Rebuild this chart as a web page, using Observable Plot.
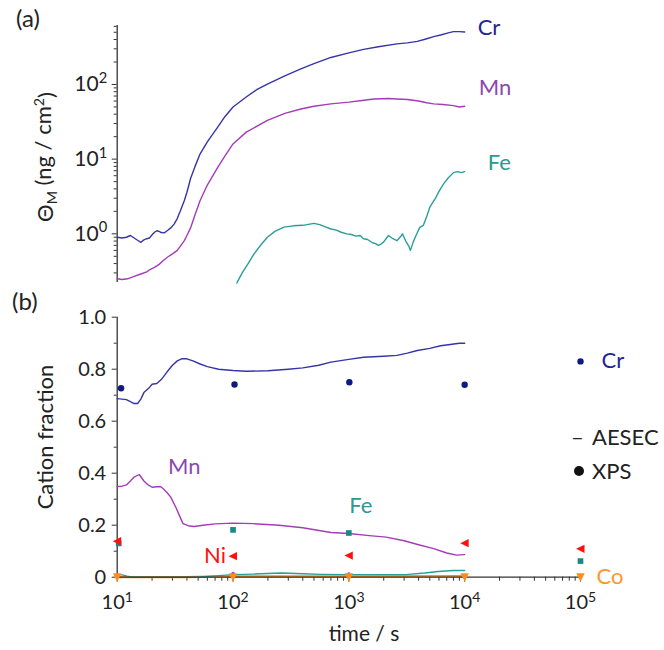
<!DOCTYPE html>
<html><head><meta charset="utf-8">
<script src="https://cdn.jsdelivr.net/npm/d3@7"></script>
<script src="https://cdn.jsdelivr.net/npm/@observablehq/plot@0.6"></script>
<style>
body{margin:0;background:#fff;}
#wrap{position:relative;width:664px;height:650px;}
#wrap svg{position:absolute;left:0;overflow:visible;}
</style></head><body><div id="wrap"></div>
<script>
// ---------- (a) AESEC cumulative mass, ng/cm2 ----------
const topTimeCr = [10,11,12,13,14,15,16,17,18,19,20,21,22,23,24,25.5,27,29,31,33,35,38,40,43,47,52,60,74,85,100,130,160,200,280,385,500,700,1000,1340,1800,2600,3200,3900,4700,5500,6200,7200,8000,9000,10000];
const topCr     = [0.90,0.88,0.90,0.95,0.88,0.82,0.77,0.83,0.86,0.88,0.97,1.05,1.10,1.08,1.04,1.03,1.10,1.20,1.35,1.6,2.0,2.8,3.6,5.5,8,11.8,17,27,37,50,68,85,102,130,162,190,230,265,295,320,350,360,378,410,440,460,490,510,510,505];
const topTimeMn = [10,11,12.3,14,16,18,19,21,23,25,27.3,30,33,35,38,40,43,47,52,60,74,85,100,130,198,280,385,500,700,1000,1300,1640,2200,2600,3200,4000,4700,5400,6500,8000,9000,10000];
const topMn     = [0.25,0.245,0.25,0.27,0.29,0.31,0.33,0.355,0.39,0.44,0.49,0.54,0.60,0.68,0.81,0.95,1.2,1.8,2.8,4.5,7.8,11,16,23,33,41,47,51,55,58,61,64,65,64,63,60,57,55,54,52,50,51];
const topTimeFe = [108,120,135,152,175,198,230,275,330,400,500,560,620,700,780,860,960,1050,1150,1250,1340,1450,1600,1700,1800,1900,2000,2200,2400,2600,2800,2900,3100,3300,3400,3600,3800,4100,4400,4700,5000,5600,6000,6600,7200,8000,8700,9300,10000];
const topFe     = [0.22,0.30,0.40,0.54,0.72,0.90,1.08,1.23,1.28,1.30,1.38,1.33,1.25,1.16,1.12,1.05,1.00,0.98,0.93,0.95,0.86,0.84,0.76,0.74,0.70,0.73,0.78,0.95,0.86,0.81,0.92,1.00,0.80,0.68,0.60,0.78,0.95,1.22,1.30,1.70,2.27,3.0,3.7,4.7,5.6,6.6,6.8,6.6,6.8];

// ---------- (b) cation fraction ----------
const botTimeCr = [10,11,12,13,14,15,16,17,19,20,22,24,27,30,33,36,40,45,52,60,75,100,130,200,300,400,550,700,1000,1340,2000,2600,3200,3900,5000,6200,7500,9000,10000];
const botCr     = [0.687,0.685,0.683,0.675,0.668,0.668,0.685,0.71,0.73,0.742,0.745,0.76,0.79,0.815,0.832,0.84,0.84,0.832,0.82,0.81,0.80,0.795,0.792,0.794,0.80,0.805,0.815,0.827,0.838,0.846,0.85,0.853,0.862,0.872,0.88,0.89,0.895,0.90,0.90];
const botTimeMn = [10,11,12,13,14,15.5,17,18.5,20,22,23.6,25,27,29,32,35,37,41,46,55,70,100,150,250,400,700,1000,1500,2100,3000,4000,5400,7000,8500,10000];
const botMn     = [0.349,0.35,0.355,0.37,0.385,0.395,0.37,0.355,0.346,0.348,0.349,0.34,0.325,0.308,0.27,0.23,0.206,0.198,0.195,0.20,0.205,0.208,0.206,0.20,0.19,0.172,0.168,0.16,0.154,0.14,0.125,0.11,0.093,0.085,0.087];
const botTimeFe = [10,11,12.2,13.6,50,70,100,150,260,400,570,1000,2000,3100,4500,5900,8000,10000];
const botFe     = [0.01,0.009,0.004,0,0,0.005,0.01,0.012,0.016,0.013,0.011,0.01,0.01,0.01,0.016,0.022,0.026,0.026];
const botTimeCo = [10,40,60,100,1000,10000];
const botCo     = [0,0,0.002,0.003,0.003,0.004];

// XPS points
const xpsTimeCr = [10.8,103,1010,10000,100000];
const xpsCr     = [0.727,0.741,0.75,0.74,0.83];
const xpsTimeFe = [10.3,100,1000,100000];
const xpsFe     = [0.13,0.182,0.17,0.062];
const xpsTimeNi = [10,100,1000,10000,100000];
const xpsNi     = [0.138,0.081,0.083,0.131,0.109];
const xpsTimeCo = [10,100,1000,10000,100000];
const xpsCo     = [0,0,0,0,0];
const xpsTimeMn = [100,1000,100000];
const xpsMn     = [0.014,0.012,0.006];

// ticks
const topMajor = [1,10,100];
const botYMajor = [0,0.2,0.4,0.6,0.8,1.0];
const botYMinor = [0.1,0.3,0.5,0.7,0.9];
const xMajor = [10,100,1000,10000,100000];

const FONT = "Lato, 'Open Sans', sans-serif";
const C = {cr:"#3535a8", crT:"#25258f", crD:"#0d1a80", mn:"#a43cb8", mnT:"#8b48b0", fe:"#2a9e9a", feT:"#279a96", feD:"#178a86", ni:"#ff1010", co:"#ff8c1a", coT:"#ff9530", ax:"#333"};

const minorLog = (lo, hi) => { const out=[]; for (const d of [0.1,1,10,100,1000,10000]) for (let k=2;k<=9;k++){ const v=k*d; if (v>lo && v<hi) out.push(v);} return out; };
const fmtPow = d => "10^" + Math.round(Math.log10(d));

const triLeft = {draw(ctx,size){const s=Math.sqrt(size)*0.5; ctx.moveTo(-s,0); ctx.lineTo(s*0.9,-s*0.95); ctx.lineTo(s*0.9,s*0.95); ctx.closePath();}};
const triDown = {draw(ctx,size){const s=Math.sqrt(size)*0.5; ctx.moveTo(0,s); ctx.lineTo(-s*0.95,-s*0.9); ctx.lineTo(s*0.95,-s*0.9); ctx.closePath();}};

function supify(svg){
  d3.select(svg).selectAll("text").each(function(){
    const m = /^10\^(-?\d+)$/.exec(this.textContent);
    if (m){ const s=d3.select(this); s.text(null); s.append("tspan").text("10"); s.append("tspan").attr("dy","-0.55em").attr("font-size","0.7em").text(m[1]); }
  });
}
function addText(sel, x, y, str, anchor, size){
  return sel.append("text").attr("x",x).attr("y",y).attr("text-anchor",anchor||"start")
    .attr("font-family",FONT).attr("font-size",size||22).attr("fill","#222").text(str);
}

const wrap = document.getElementById("wrap");

// ---- top panel ----
const topPlot = Plot.plot({
  width:664, height:295, marginLeft:116.7, marginRight:84, marginTop:25, marginBottom:13,
  style:{fontFamily:FONT, background:"transparent", overflow:"visible"},
  x:{type:"log", domain:[10,1e5], axis:null},
  y:{type:"log", domain:[0.223,616], axis:null},
  marks:[
    Plot.ruleX([10], {stroke:C.ax, strokeWidth:1.3}),
    Plot.axisY(minorLog(0.223,616), {tickSize:3, tickFormat:()=>"", label:null, stroke:C.ax}),
    Plot.axisY(topMajor, {tickSize:5, tickPadding:5, fontSize:21, tickFormat:fmtPow, label:null, stroke:C.ax, fill:"#222"}),
    Plot.line(topCr, {x:topTimeCr, y:topCr, stroke:C.cr, strokeWidth:1.4}),
    Plot.line(topMn, {x:topTimeMn, y:topMn, stroke:C.mn, strokeWidth:1.4}),
    Plot.line(topFe, {x:topTimeFe, y:topFe, stroke:C.fe, strokeWidth:1.4}),
    Plot.text(["Cr"], {x:[topTimeCr.at(-1)], y:[topCr.at(-1)], dx:13, dy:-4, textAnchor:"start", fill:C.crT, fontSize:22}),
    Plot.text(["Mn"], {x:[topTimeMn.at(-1)], y:[topMn.at(-1)], dx:14, dy:-18, textAnchor:"start", fill:C.mnT, fontSize:22}),
    Plot.text(["Fe"], {x:[topTimeFe.at(-1)], y:[topFe.at(-1)], dx:23, dy:-9, textAnchor:"start", fill:C.feT, fontSize:22})
  ]
});
topPlot.style.top = "0px";
supify(topPlot);
const ts = d3.select(topPlot);
addText(ts, 16, 27, "(a)", "start", 24);
const tl = ts.append("text").attr("transform","translate(53,157) rotate(-90)").attr("text-anchor","middle").attr("font-family",FONT).attr("font-size",22).attr("fill","#222");
tl.append("tspan").text("Θ");
tl.append("tspan").attr("dy","0.3em").attr("font-size","0.65em").text("M");
tl.append("tspan").attr("dy","-0.3em").text(" (ng / cm");
tl.append("tspan").attr("dy","-0.45em").attr("font-size","0.65em").text("2");
tl.append("tspan").attr("dy","0.45em").text(")");
wrap.appendChild(topPlot);

// ---- bottom panel ----
const botPlot = Plot.plot({
  width:664, height:360, marginLeft:116.7, marginRight:84, marginTop:26.7, marginBottom:73.3,
  style:{fontFamily:FONT, background:"transparent", overflow:"visible"},
  x:{type:"log", domain:[10,1e5], axis:null},
  y:{domain:[0,1], axis:null},
  marks:[
    Plot.ruleX([10], {stroke:C.ax, strokeWidth:1.3}),
    Plot.axisY(botYMinor, {tickSize:3, tickFormat:()=>"", label:null, stroke:C.ax}),
    Plot.axisY(botYMajor, {tickSize:5, tickPadding:6, fontSize:20, tickFormat:d=> d===0 ? "0" : d.toFixed(1), label:null, stroke:C.ax, fill:"#222"}),
    Plot.axisX(minorLog(10,1e5), {tickSize:4, tickFormat:()=>"", label:null, stroke:C.ax}),
    Plot.axisX(xMajor, {tickSize:5, tickPadding:13, fontSize:20, tickFormat:fmtPow, label:null, stroke:C.ax, fill:"#222"}),
    Plot.line(botCo, {x:botTimeCo, y:botCo, stroke:C.co, strokeWidth:2.2}),
    Plot.line(botFe, {x:botTimeFe, y:botFe, stroke:C.fe, strokeWidth:1.4}),
    Plot.line(botMn, {x:botTimeMn, y:botMn, stroke:C.mn, strokeWidth:1.4}),
    Plot.line(botCr, {x:botTimeCr, y:botCr, stroke:C.cr, strokeWidth:1.4}),
    Plot.ruleY([0], {stroke:C.ax, strokeWidth:1.3}),
    Plot.dot(xpsMn, {x:xpsTimeMn, y:xpsMn, r:1.8, fill:C.mn}),
    Plot.dot(xpsCo, {x:xpsTimeCo, y:xpsCo, r:5, symbol:triDown, fill:C.co}),
    Plot.dot(xpsFe, {x:xpsTimeFe, y:xpsFe, r:3.2, symbol:"square", fill:C.feD}),
    Plot.dot(xpsNi, {x:xpsTimeNi, y:xpsNi, r:5, symbol:triLeft, fill:C.ni}),
    Plot.dot(xpsCr, {x:xpsTimeCr, y:xpsCr, r:3.2, fill:C.crD}),
    Plot.text(["Cr"], {x:[xpsTimeCr.at(-1)], y:[xpsCr.at(-1)], dx:21, textAnchor:"start", fill:C.crT, fontSize:22}),
    Plot.text(["Mn"], {x:[botTimeMn[5]], y:[botMn[5]], dx:45, dy:-8, fill:C.mnT, fontSize:22}),
    Plot.text(["Fe"], {x:[xpsTimeFe[2]], y:[xpsFe[2]], dx:12, dy:-27, fill:C.feT, fontSize:22}),
    Plot.text(["Ni"], {x:[xpsTimeNi[1]], y:[xpsNi[1]], dx:-7, textAnchor:"end", fill:C.ni, fontSize:22}),
    Plot.text(["Co"], {x:[xpsTimeCo.at(-1)], y:[xpsCo.at(-1)], dx:16, textAnchor:"start", fill:C.coT, fontSize:22})
  ]
});
botPlot.style.top = "290px";
supify(botPlot);
const bs = d3.select(botPlot);
addText(bs, 12, 20, "(b)", "start", 24);
bs.append("text").attr("transform","translate(53,147) rotate(-90)").attr("text-anchor","middle").attr("font-family",FONT).attr("font-size",22).attr("fill","#222").text("Cation fraction");
addText(bs, 364, 351, "time / s", "middle", 21);
// legend (line vs markers)
addText(bs, 571, 155, "–");
addText(bs, 592, 155, "AESEC");
bs.append("circle").attr("cx",579).attr("cy",181).attr("r",5).attr("fill","#111");
addText(bs, 592, 189, "XPS");
wrap.appendChild(botPlot);
</script>
</body></html>
